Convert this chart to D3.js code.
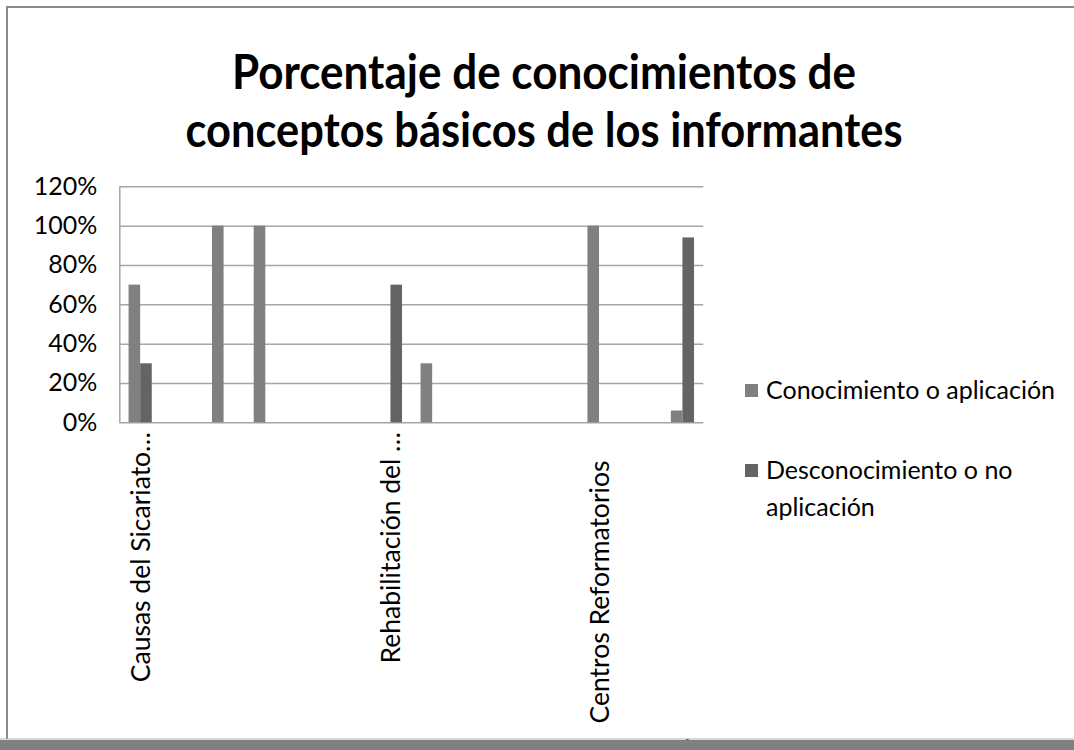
<!DOCTYPE html>
<head>
<meta charset="utf-8">
<style>
body { margin: 0; background: #fff; }
text { font-family: Lato, "Open Sans", sans-serif; fill: #000; }
.grid line { stroke: #a6a6a6; stroke-width: 1.5px; }
.grid path { stroke: #a6a6a6; stroke-width: 1.5px; }
</style>
</head>
<body>
<script src="https://d3js.org/d3.v7.min.js"></script>
<script>

// chart data
var titleLines = ["Porcentaje de conocimientos de", "conceptos básicos de los informantes"];
var categories = ["Causas del Sicariato…", "", "", "", "", "", "Rehabilitación del …",
                  "", "", "", "", "Centros Reformatorios", "", ""];
var seriesNames = ["Conocimiento o aplicación", "Desconocimiento o no aplicación"];
var conocimiento    = [0.70, null, 1.00, 1.00, null, null, null, 0.30, null, null, null, 1.00, null, 0.06];
var desconocimiento = [0.30, null, null, null, null, null, 0.70, null, null, null, null, null, null, 0.94];
var yTicks = [0, 0.2, 0.4, 0.6, 0.8, 1.0, 1.2];

var colors = ["#808080", "#646464"];

var W = 1074, H = 750;
var plot = {left: 119.3, right: 703.3, top: 186.3, bottom: 422.3};

var svg = d3.select("body").append("svg")
    .attr("width", W)
    .attr("height", H);

// frame of the slide
svg.append("line").attr("x1", 6).attr("x2", W).attr("y1", 7).attr("y2", 7)
    .style("stroke", "#8a8a8a").style("stroke-width", 2);
svg.append("line").attr("x1", 7).attr("x2", 7).attr("y1", 6).attr("y2", 739)
    .style("stroke", "#8a8a8a").style("stroke-width", 2);

// title
svg.selectAll(".title")
    .data(titleLines)
  .enter().append("text")
    .attr("class", "title")
    .attr("x", 544)
    .attr("y", function(d, i) { return 89 + i * 58; })
    .attr("text-anchor", "middle")
    .attr("textLength", function(d, i) { return i == 0 ? 624 : 717; })
    .attr("lengthAdjust", "spacingAndGlyphs")
    .style("font-size", "48px")
    .style("font-weight", "bold")
    .text(function(d) { return d; });

// scales
var x0 = d3.scaleBand()
    .domain(d3.range(categories.length))
    .range([plot.left, plot.right])
    .paddingInner(0.444)
    .paddingOuter(0.222);
var x1 = d3.scaleBand()
    .domain([0, 1])
    .range([0, x0.bandwidth()]);
var y = d3.scaleLinear().domain([0, 1.2]).range([plot.bottom, plot.top]);

// gridlines + y axis
var gy = svg.append("g")
    .attr("class", "grid")
    .attr("transform", "translate(" + plot.left + ",0)")
    .call(d3.axisLeft(y)
        .tickValues(yTicks)
        .tickSize(-(plot.right - plot.left))
        .tickSizeOuter(0)
        .tickPadding(22)
        .tickFormat(d3.format(".0%")));
gy.selectAll("text").style("font-size", "25px").style("fill", "#000");

// bars
var rows = categories.map(function(c, i) {
  return {i: i, values: [conocimiento[i], desconocimiento[i]]};
});
var groups = svg.selectAll(".cat")
    .data(rows)
  .enter().append("g")
    .attr("class", "cat")
    .attr("transform", function(d) { return "translate(" + x0(d.i) + ",0)"; });
groups.selectAll("rect")
    .data(function(d) { return d.values.map(function(v, k) { return {k: k, v: v}; })
        .filter(function(e) { return e.v != null; }); })
  .enter().append("rect")
    .attr("x", function(d) { return x1(d.k); })
    .attr("width", x1.bandwidth())
    .attr("y", function(d) { return y(d.v); })
    .attr("height", function(d) { return y(0) - y(d.v); })
    .style("fill", function(d) { return colors[d.k]; });

// category labels, rotated
var labelTop = 432, labelBox = 320;
svg.selectAll(".xlab")
    .data(categories.map(function(c, i) { return {i: i, c: c}; }).filter(function(d) { return d.c; }))
  .enter().append("text")
    .attr("class", "xlab")
    .attr("transform", function(d) {
      var cut = d.c.slice(-1) == "…";
      var yy = cut ? labelTop : labelTop + labelBox / 2;
      return "translate(" + (x0(d.i) + x0.bandwidth() / 2) + "," + yy + ") rotate(-90)";
    })
    .attr("text-anchor", function(d) { return d.c.slice(-1) == "…" ? "end" : "middle"; })
    .attr("dy", "0.36em")
    .style("font-size", "26.5px")
    .text(function(d) { return d.c; });

// legend
var legendLines = [["Conocimiento o aplicación"], ["Desconocimiento o no", "aplicación"]];
var lg = svg.selectAll(".leg")
    .data(legendLines)
  .enter().append("g")
    .attr("class", "leg")
    .attr("transform", function(d, i) { return "translate(745," + (390 + i * 80) + ")"; });
lg.append("rect")
    .attr("x", 0).attr("y", -6)
    .attr("width", 13).attr("height", 13)
    .style("fill", function(d, i) { return colors[i]; });
lg.append("text")
    .attr("x", 21)
    .style("font-size", "25px")
  .selectAll("tspan")
    .data(function(d) { return d; })
  .enter().append("tspan")
    .attr("x", 21)
    .attr("y", function(d, j) { return j * 37; })
    .attr("dy", "0.35em")
    .text(function(d) { return d; });

// cut-off page number and bottom bar
svg.append("text")
    .attr("x", 685).attr("y", 757)
    .attr("text-anchor", "middle")
    .style("font-size", "25px")
    .text("6");
svg.append("line").attr("x1", 0).attr("x2", W).attr("y1", 739).attr("y2", 739)
    .style("stroke", "#b0b0b0").style("stroke-width", 1);
svg.append("rect").attr("x", 0).attr("y", 740).attr("width", W).attr("height", 10)
    .style("fill", "#808080");

</script>
</body>
